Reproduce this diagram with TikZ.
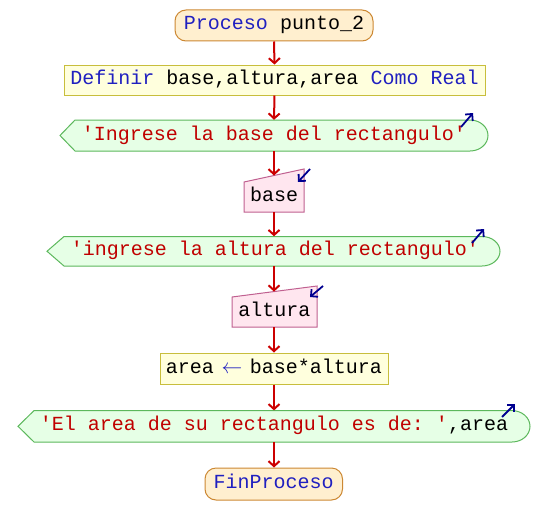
\documentclass[tikz,border=0pt]{standalone}
\usepackage{fontspec}
\setmonofont{Liberation Mono}
\usetikzlibrary{arrows.meta}
\definecolor{kwblue}{HTML}{2020C0}
\definecolor{strred}{HTML}{C00000}
\definecolor{termfill}{HTML}{FFEFCF}
\definecolor{termdraw}{HTML}{CC8833}
\definecolor{deffill}{HTML}{FFFFDD}
\definecolor{defdraw}{HTML}{C8BE3C}
\definecolor{outfill}{HTML}{E6FFE6}
\definecolor{outdraw}{HTML}{5CB85C}
\definecolor{infill}{HTML}{FFE6EF}
\definecolor{indraw}{HTML}{C06090}
\definecolor{flowred}{HTML}{CC0000}
\definecolor{iconblue}{HTML}{000090}
\newcommand\kwd[1]{\textcolor{kwblue}{#1}}
\newcommand\strg[1]{\textcolor{strred}{#1}}
\begin{document}
\begin{tikzpicture}[x=1pt,y=-1pt,
  txt/.style={font=\ttfamily\fontsize{20}{24}\selectfont, inner sep=0pt, text height=13pt, text depth=4pt, anchor=center},
  termbox/.style={txt, draw=termdraw, fill=termfill, line width=1pt, rounded corners=11pt},
  defbox/.style={txt, draw=defdraw, fill=deffill, line width=1pt},
  outshape/.style={draw=outdraw, fill=outfill, line width=1pt},
  inshape/.style={draw=indraw, fill=infill, line width=1pt},
  flow/.style={draw=flowred, line width=2pt, -{Straight Barb[length=5pt,width=11pt,line width=2pt]}},
  icon/.style={draw=iconblue, line width=1.8pt, -{Straight Barb[length=5pt,width=10pt,line width=1.8pt]}}
]
\useasboundingbox (0,0) rectangle (548,527);

% shapes drawn directly
\path[outshape] (60,135.5) -- (75,120) -- (470,120) arc[start angle=90,end angle=-90,x radius=18pt,y radius=15.5pt] -- (75,151) -- cycle;
\path[inshape] (244,182) -- (304,169) -- (304,212) -- (244,212) -- cycle;
\path[outshape] (47,251.25) -- (64,236.5) -- (482,236.5) arc[start angle=90,end angle=-90,x radius=18pt,y radius=14.75pt] -- (64,266) -- cycle;
\path[inshape] (232,297) -- (317,286) -- (317,327) -- (232,327) -- cycle;
\path[outshape] (18,426.3) -- (34,410.6) -- (512,410.6) arc[start angle=90,end angle=-90,x radius=18pt,y radius=15.7pt] -- (34,442) -- cycle;

% nodes
\node[termbox, minimum width=198pt, minimum height=31pt] (start) at (274,25.5) {\kwd{Proceso} punto\_2};
\node[defbox, minimum width=421pt, minimum height=30pt] (def) at (274.5,80) {\kwd{Definir} base,altura,area \kwd{Como} \kwd{Real}};
\node[txt, minimum height=31pt] (out1) at (274,135.5) {\strg{'Ingrese la base del rectangulo'}};
\node[txt, minimum height=30pt] (in1) at (274,197) {base};
\node[txt, minimum height=29.5pt] (out2) at (275,251.25) {\strg{'ingrese la altura del rectangulo'}};
\node[txt, minimum height=30pt] (in2) at (274.5,312) {altura};
\node[defbox, minimum width=228pt, minimum height=31pt] (assign) at (274,368.5) {area \makebox[12pt]{\kwd{$\leftarrow$}} base*altura};
\node[txt, minimum height=31.4pt] (out3) at (274,426.3) {\strg{'El area de su rectangulo es de: '},area};
\node[termbox, minimum width=137.5pt, minimum height=32pt] (end) at (273.75,484) {\kwd{FinProceso}};

\coordinate (in1top) at (274,175.5);
\coordinate (in2top) at (274,291.6);

% connectors
\draw[flow] (start.south) -- (def.north);
\draw[flow] (def.south) -- (out1.north);
\draw[flow] (out1.south) -- (in1top);
\draw[flow] (in1.south) -- (out2.north -| in1top);
\draw[flow] (out2.south -| in1top) -- (in2top);
\draw[flow] (in2.south -| in2top) -- (assign.north -| in2top);
\draw[flow] (assign.south) -- (out3.north);
\draw[flow] (out3.south) -- (out3.south |- end.north);

% io icons
\draw[icon] (461,127) -- (473,113);
\draw[icon] (472,243) -- (484,229);
\draw[icon] (502,417) -- (515,404);
\draw[icon] (310,169) -- (298,182);
\draw[icon] (323,286) -- (310,297);
\end{tikzpicture}
\end{document}
